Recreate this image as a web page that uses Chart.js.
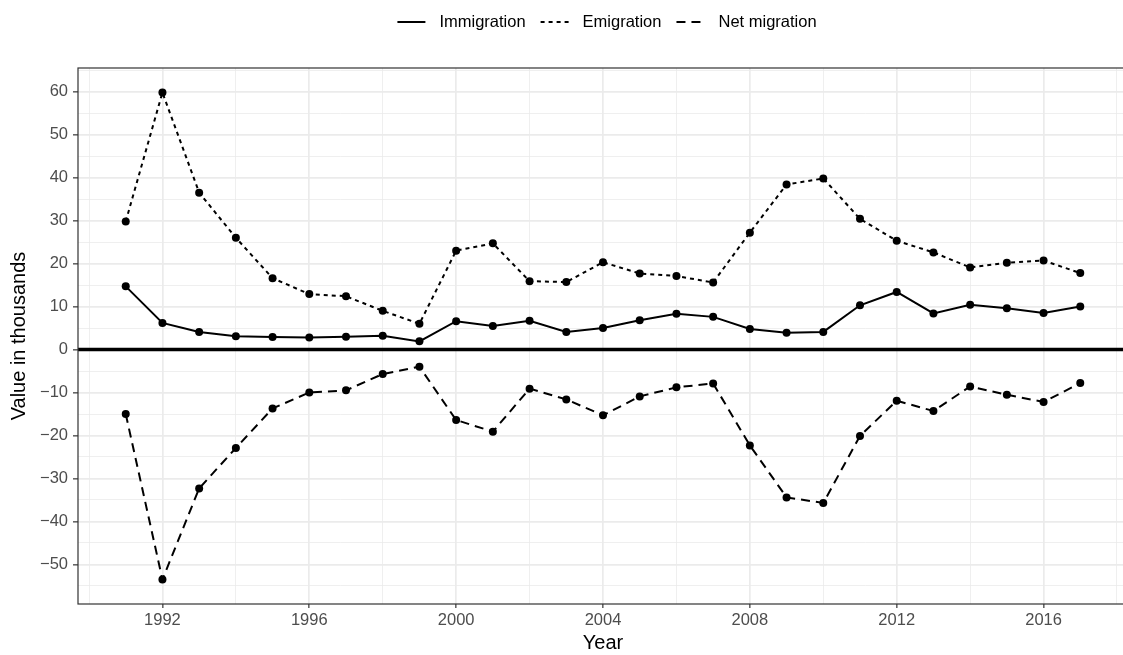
<!DOCTYPE html>
<html>
<head>
<meta charset="utf-8">
<script src="https://cdn.jsdelivr.net/npm/chart.js@4.4.1/dist/chart.umd.min.js"></script>
<style>
  html, body { margin: 0; padding: 0; background: #fff; overflow: hidden; }
  #wrap { width: 1123px; height: 655px; overflow: hidden; }
</style>
</head>
<body>
<!-- the reference is cropped on the right, so the canvas runs a bit past the window -->
<div id="wrap"><canvas id="migrationChart" width="1132" height="655"></canvas></div>
<script>
// data (thousands)
const years = [1991, 1992, 1993, 1994, 1995, 1996, 1997, 1998, 1999, 2000, 2001, 2002, 2003, 2004,
  2005, 2006, 2007, 2008, 2009, 2010, 2011, 2012, 2013, 2014, 2015, 2016, 2017];
const immigration = [14.7, 6.2, 4.1, 3.1, 2.9, 2.8, 3.0, 3.2, 1.9, 6.6, 5.5, 6.7, 4.1, 5.0,
  6.8, 8.3, 7.6, 4.8, 3.9, 4.1, 10.3, 13.4, 8.4, 10.4, 9.6, 8.5, 10.0];
const emigration = [29.8, 59.8, 36.5, 26.0, 16.6, 12.9, 12.4, 9.0, 6.0, 23.0, 24.7, 15.9, 15.7, 20.3,
  17.7, 17.1, 15.6, 27.2, 38.4, 39.8, 30.4, 25.3, 22.6, 19.1, 20.2, 20.7, 17.8];
const netMigration = [-15.0, -53.5, -32.3, -22.9, -13.7, -10.0, -9.5, -5.7, -4.0, -16.4, -19.1, -9.1, -11.6, -15.3,
  -10.9, -8.8, -7.9, -22.3, -34.4, -35.7, -20.1, -11.9, -14.3, -8.6, -10.5, -12.2, -7.8];

// tick labels (major) and grid positions (major + minor)
const xLabelTicks = [1992, 1996, 2000, 2004, 2008, 2012, 2016];
const xGridTicks = [1990, 1992, 1994, 1996, 1998, 2000, 2002, 2004, 2006, 2008, 2010, 2012, 2014, 2016, 2018];
const yLabelTicks = [-50, -40, -30, -20, -10, 0, 10, 20, 30, 40, 50, 60];
const yGridTicks = [-55, -50, -45, -40, -35, -30, -25, -20, -15, -10, -5, 0, 5, 10, 15, 20, 25, 30, 35, 40, 45, 50, 55, 60, 65];

const FONT = '"Liberation Sans", Arial, Helvetica, sans-serif';
const GRID = '#EBEBEB';

function points(vals) {
  return years.map((y, i) => ({ x: y, y: vals[i] }));
}

function lineSet(label, vals, dash) {
  return {
    label: label,
    data: points(vals),
    borderColor: '#000',
    backgroundColor: '#000',
    borderWidth: 2,
    borderDash: dash,
    pointRadius: 4,
    pointHoverRadius: 4,
    pointBorderWidth: 0,
    pointBackgroundColor: '#000',
    tension: 0,
    fill: false
  };
}

// thick zero line + panel border
const panelPlugin = {
  id: 'panel',
  beforeDatasetsDraw(chart) {
    const { ctx, chartArea } = chart;
    const y0 = chart.scales.y.getPixelForValue(0);
    ctx.save();
    ctx.strokeStyle = '#000';
    ctx.lineWidth = 3.5;
    ctx.beginPath();
    ctx.moveTo(chartArea.left, y0);
    ctx.lineTo(chartArea.right, y0);
    ctx.stroke();
    ctx.restore();
  },
  afterDraw(chart) {
    const { ctx, chartArea } = chart;
    ctx.save();
    ctx.strokeStyle = '#333333';
    ctx.lineWidth = 1.2;
    ctx.strokeRect(chartArea.left, chartArea.top, chartArea.right - chartArea.left, chartArea.bottom - chartArea.top);
    ctx.restore();
  }
};

// ggplot-like legend on top
const legendPlugin = {
  id: 'ggLegend',
  afterDraw(chart) {
    const { ctx } = chart;
    const keyW = 28, keyGap = 14, itemGap = 15;
    ctx.save();
    ctx.font = '16.5px ' + FONT;
    const items = chart.data.datasets.map(ds => ({ ds: ds, tw: ctx.measureText(ds.label).width }));
    const total = items.reduce((s, it) => s + keyW + keyGap + it.tw, 0) + itemGap * (items.length - 1);
    let x = 607 - total / 2;
    const y = 22;
    items.forEach(it => {
      ctx.strokeStyle = '#000';
      ctx.lineWidth = 2;
      ctx.setLineDash(it.ds.borderDash || []);
      ctx.beginPath();
      ctx.moveTo(x, y);
      ctx.lineTo(x + keyW, y);
      ctx.stroke();
      ctx.setLineDash([]);
      ctx.fillStyle = '#000';
      ctx.textBaseline = 'middle';
      ctx.textAlign = 'left';
      ctx.fillText(it.ds.label, x + keyW + keyGap, y);
      x += keyW + keyGap + it.tw + itemGap;
    });
    ctx.restore();
  }
};

const ctx = document.getElementById('migrationChart').getContext('2d');
new Chart(ctx, {
  type: 'line',
  data: {
    datasets: [
      lineSet('Immigration', immigration, []),
      lineSet('Emigration', emigration, [4, 4]),
      lineSet('Net migration', netMigration, [9, 6])
    ]
  },
  options: {
    responsive: false,
    animation: false,
    layout: { padding: { top: 68, right: 1, left: 0, bottom: 0 } },
    plugins: {
      legend: { display: false },
      tooltip: { enabled: false }
    },
    scales: {
      x: {
        type: 'linear',
        min: 1989.7,
        max: 2018.3,
        afterBuildTicks: scale => { scale.ticks = xGridTicks.map(v => ({ value: v })); },
        afterFit: scale => { scale.height = 51; },
        border: { display: false },
        grid: {
          color: GRID,
          lineWidth: c => xLabelTicks.includes(c.tick.value) ? 1.7 : 0.8,
          tickLength: 4,
          tickWidth: 1.2,
          tickColor: c => xLabelTicks.includes(c.tick.value) ? '#333333' : 'rgba(0,0,0,0)'
        },
        ticks: {
          autoSkip: false,
          maxRotation: 0,
          padding: 3,
          color: '#4D4D4D',
          font: { family: FONT, size: 16.5 },
          callback: v => xLabelTicks.includes(v) ? String(v) : ''
        },
        title: {
          display: true,
          text: 'Year',
          color: '#000',
          font: { family: FONT, size: 20 },
          padding: { top: 0, bottom: 0 }
        }
      },
      y: {
        type: 'linear',
        min: -59.2,
        max: 65.5,
        afterBuildTicks: scale => { scale.ticks = yGridTicks.map(v => ({ value: v })); },
        afterFit: scale => { scale.width = 78; },
        border: { display: false },
        grid: {
          color: GRID,
          lineWidth: c => yLabelTicks.includes(c.tick.value) ? 1.7 : 0.8,
          tickLength: 5,
          tickWidth: 1.2,
          tickColor: c => yLabelTicks.includes(c.tick.value) ? '#333333' : 'rgba(0,0,0,0)'
        },
        ticks: {
          autoSkip: false,
          padding: 5,
          color: '#4D4D4D',
          font: { family: FONT, size: 16.5 },
          callback: v => yLabelTicks.includes(v) ? String(v).replace('-', '\u2212') : ''
        },
        title: {
          display: true,
          text: 'Value in thousands',
          color: '#000',
          font: { family: FONT, size: 20 },
          padding: { top: 7, bottom: 0 }
        }
      }
    }
  },
  plugins: [panelPlugin, legendPlugin]
});
</script>
</body>
</html>
